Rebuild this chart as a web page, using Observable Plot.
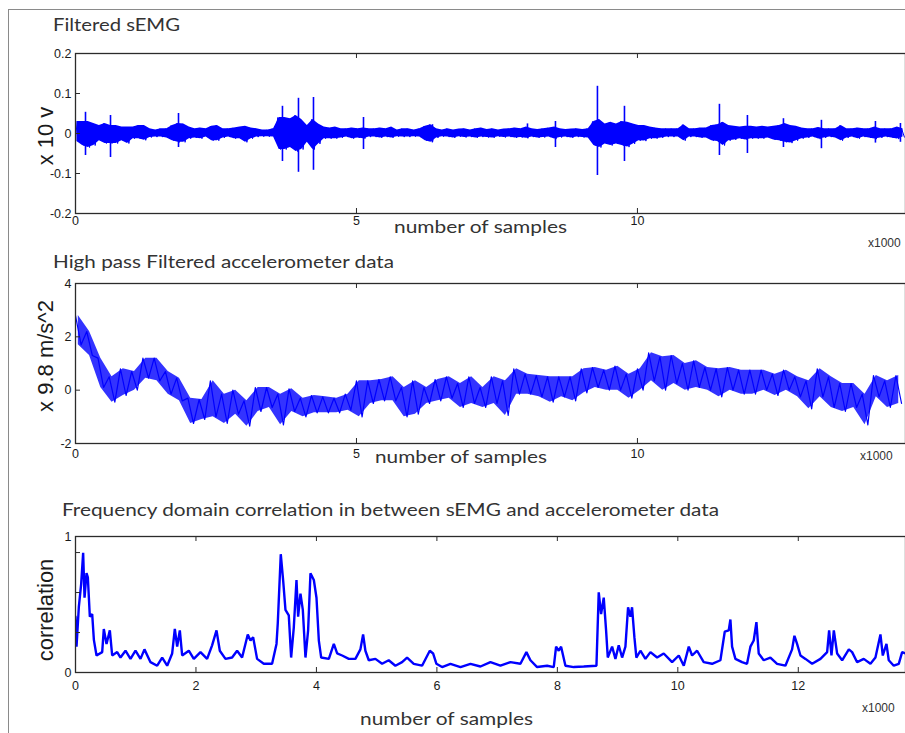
<!DOCTYPE html>
<html><head><meta charset="utf-8">
<script src="https://cdn.jsdelivr.net/npm/d3@7"></script>
<script src="https://cdn.jsdelivr.net/npm/@observablehq/plot@0.6"></script>
<style>
body{margin:0;background:#fff;}
#fig{position:relative;width:905px;height:733px;overflow:hidden;background:#fff;}
#frame{position:absolute;left:8px;top:9px;width:1000px;height:800px;border-left:1.5px solid #8a8a8a;border-top:1.5px solid #8a8a8a;}
.panel{position:absolute;left:0;}
#ann{position:absolute;left:0;top:0;pointer-events:none;}
</style></head>
<body>
<div id="fig"><div id="frame"></div></div>
<script>
// ---------- Panel 1: Filtered sEMG (noise envelope per 100 samples + isolated spikes) ----------
const semgStep = 100;
const semgHi = [
 0.03,0.03,0.03,0.025,0.02,0.025,0.02,0.02,0.016,0.016,
 0.016,0.02,0.02,0.012,0.009,0.012,0.012,0.02,0.025,0.024,
 0.016,0.012,0.014,0.012,0.018,0.02,0.012,0.012,0.014,0.016,
 0.018,0.014,0.012,0.009,0.009,0.012,0.04,0.04,0.037,0.045,
 0.035,0.02,0.035,0.024,0.016,0.014,0.016,0.012,0.012,0.014,
 0.012,0.014,0.012,0.012,0.014,0.012,0.016,0.009,0.012,0.012,
 0.009,0.012,0.018,0.022,0.012,0.009,0.012,0.009,0.011,0.012,
 0.009,0.012,0.014,0.01,0.012,0.009,0.011,0.012,0.014,0.012,
 0.016,0.012,0.01,0.012,0.014,0.016,0.012,0.01,0.011,0.012,
 0.01,0.012,0.03,0.035,0.024,0.028,0.024,0.03,0.028,0.024,
 0.02,0.02,0.016,0.014,0.012,0.012,0.012,0.012,0.022,0.012,
 0.012,0.014,0.014,0.02,0.022,0.028,0.02,0.018,0.016,0.018,
 0.018,0.016,0.018,0.016,0.018,0.02,0.025,0.02,0.018,0.014,
 0.012,0.012,0.015,0.012,0.012,0.012,0.02,0.012,0.012,0.014,
 0.012,0.012,0.016,0.012,0.012,0.012,0.016,0.012];
const semgLo = [
 -0.02,-0.03,-0.035,-0.03,-0.018,-0.025,-0.025,-0.025,-0.018,-0.025,
 -0.013,-0.013,-0.017,-0.01,-0.009,-0.009,-0.011,-0.018,-0.022,-0.022,
 -0.013,-0.011,-0.013,-0.009,-0.018,-0.018,-0.011,-0.009,-0.013,-0.013,
 -0.022,-0.013,-0.009,-0.008,-0.008,-0.009,-0.04,-0.04,-0.035,-0.045,
 -0.04,-0.022,-0.04,-0.026,-0.013,-0.013,-0.013,-0.011,-0.009,-0.013,
 -0.011,-0.013,-0.009,-0.009,-0.011,-0.009,-0.011,-0.008,-0.009,-0.009,
 -0.008,-0.009,-0.018,-0.022,-0.011,-0.008,-0.009,-0.011,-0.008,-0.01,
 -0.009,-0.011,-0.009,-0.01,-0.011,-0.008,-0.01,-0.009,-0.011,-0.01,
 -0.012,-0.009,-0.011,-0.01,-0.009,-0.014,-0.01,-0.009,-0.011,-0.009,
 -0.01,-0.011,-0.03,-0.035,-0.026,-0.03,-0.026,-0.03,-0.034,-0.026,
 -0.018,-0.019,-0.013,-0.013,-0.011,-0.009,-0.009,-0.009,-0.018,-0.009,
 -0.009,-0.011,-0.011,-0.018,-0.02,-0.03,-0.018,-0.016,-0.013,-0.016,
 -0.013,-0.013,-0.013,-0.011,-0.016,-0.018,-0.022,-0.024,-0.018,-0.013,
 -0.011,-0.009,-0.014,-0.011,-0.009,-0.011,-0.018,-0.011,-0.009,-0.013,
 -0.009,-0.011,-0.014,-0.011,-0.009,-0.011,-0.014,-0.009];
const semgSpikeX  = [178, 623, 1833, 3683, 3968, 4235, 5125, 6352, 8043, 8541, 9288, 9769, 11459, 11957, 12598, 13274, 14235, 14680];
const semgSpikeHi = [0.053, 0.045, 0.05, 0.068, 0.088, 0.09, 0.04, 0.022, 0.024, 0.03, 0.118, 0.068, 0.073, 0.045, 0.037, 0.033, 0.03, 0.025];
const semgSpikeLo = [-0.055, -0.06, -0.035, -0.07, -0.097, -0.092, -0.04, -0.022, -0.012, -0.035, -0.105, -0.07, -0.055, -0.05, -0.035, -0.038, -0.024, -0.022];
const semgXTicks = [0, 5000, 10000];
const semgYTicks = [-0.2, -0.1, 0, 0.1, 0.2];

// ---------- Panel 2: accelerometer (envelope per 200 samples) ----------
const accStep = 200;
const accHi = [
 2.8,2.2,1.2,0.5,0.8,0.7,1.2,1.2,0.7,0.45,
 -0.3,-0.35,0.35,-0.15,0.0,-0.4,0.1,0.1,-0.15,0.05,
 -0.3,-0.2,-0.25,-0.3,-0.15,0.35,0.35,0.4,0.5,0.1,
 0.35,0.1,0.4,0.5,0.25,0.5,0.1,0.5,0.35,0.8,
 0.6,0.55,0.5,0.5,0.5,0.8,0.85,0.75,0.9,0.6,
 0.8,1.4,1.25,1.3,1.0,1.1,0.85,0.8,0.85,0.75,
 0.75,0.75,0.6,0.75,0.5,0.35,0.8,0.5,0.25,0.25,
 -0.15,0.55,0.35,0.55];
const accLo = [
 1.7,1.3,0.1,-0.45,-0.2,0.0,0.45,0.35,-0.15,-0.4,
 -1.25,-1.1,-1.0,-1.25,-0.9,-1.35,-0.8,-0.65,-1.3,-0.8,
 -1.0,-0.85,-0.85,-0.85,-0.75,-1.0,-0.5,-0.4,-0.4,-1.0,
 -0.9,-0.5,-0.4,-0.3,-0.65,-0.5,-0.65,-0.5,-0.95,-0.15,
 -0.15,-0.25,-0.45,-0.25,-0.4,-0.1,0.1,0.0,0.0,-0.3,
 0.0,0.35,0.0,0.25,0.0,0.1,0.0,-0.25,0.0,-0.15,
 -0.15,0.0,-0.2,0.0,-0.25,-0.7,-0.25,-0.65,-0.8,-0.65,
 -1.3,-0.25,-0.65,-0.5];
const accXTicks = [0, 5000, 10000];
const accYTicks = [-2, 0, 2, 4];

const corrX = [
 0,17,55,94,127,150,183,205,238,277,305,349,443,470,515,570,609,692,747,830,
 913,996,1079,1145,1245,1356,1439,1522,1605,1649,1688,1732,1771,1881,1964,2075,2185,2268,2341,2396,
 2490,2600,2683,2766,2860,2905,2949,3015,3126,3264,3337,3358,3408,3447,3486,3541,3580,3624,3669,3696,
 3735,3774,3818,3862,3901,3957,4001,4040,4079,4206,4289,4344,4427,4538,4647,4730,4775,4813,4869,4979,
 5090,5200,5311,5422,5505,5616,5754,5882,5937,5992,6086,6225,6391,6557,6723,6889,7055,7221,7387,7486,
 7553,7664,7830,7940,7979,8023,8062,8134,8272,8438,8649,8687,8726,8770,8809,8837,8909,8964,9019,9075,
 9130,9174,9213,9240,9279,9312,9379,9462,9545,9656,9766,9905,10016,10099,10182,10237,10320,10430,10569,10707,
 10779,10845,10873,10901,10956,11066,11149,11205,11260,11305,11343,11426,11537,11648,11786,11897,11936,11980,12036,12119,
 12230,12368,12479,12512,12551,12590,12645,12728,12839,12894,12977,13087,13198,13281,13364,13403,13464,13502,13585,13668,
 13724,13779];
const corrY = [
 0.41,0.19,0.48,0.65,0.88,0.55,0.73,0.70,0.41,0.43,0.24,0.125,0.15,0.32,0.21,0.31,0.125,0.15,0.11,0.16,
 0.1,0.16,0.1,0.17,0.076,0.05,0.11,0.05,0.14,0.32,0.19,0.31,0.125,0.16,0.1,0.15,0.1,0.2,0.31,0.16,
 0.1,0.11,0.16,0.11,0.28,0.235,0.26,0.1,0.064,0.064,0.21,0.36,0.87,0.68,0.46,0.42,0.11,0.33,0.68,0.41,
 0.58,0.46,0.11,0.31,0.73,0.68,0.55,0.235,0.11,0.1,0.21,0.14,0.125,0.1,0.1,0.17,0.28,0.16,0.09,0.1,
 0.064,0.09,0.05,0.076,0.11,0.064,0.05,0.16,0.14,0.064,0.04,0.064,0.04,0.064,0.044,0.076,0.05,0.076,0.064,0.15,
 0.09,0.04,0.05,0.04,0.19,0.16,0.19,0.05,0.04,0.044,0.05,0.59,0.43,0.55,0.31,0.11,0.19,0.1,0.2,0.11,
 0.19,0.48,0.41,0.48,0.26,0.11,0.16,0.1,0.15,0.11,0.14,0.076,0.125,0.05,0.19,0.125,0.16,0.076,0.064,0.09,
 0.3,0.31,0.39,0.19,0.1,0.076,0.064,0.19,0.235,0.37,0.14,0.09,0.11,0.064,0.05,0.17,0.27,0.21,0.125,0.1,
 0.064,0.1,0.15,0.31,0.125,0.31,0.14,0.09,0.17,0.15,0.076,0.1,0.064,0.11,0.28,0.125,0.21,0.09,0.05,0.064,
 0.15,0.14];
const corrXTicks = [0, 2000, 4000, 6000, 8000, 10000, 12000];
const corrYTicks = [0, 0.294, 0.588, 0.882, 1];
const corrYLabels = {0: "0", 1: "1"};

// ---------- text ----------
const titles = ["Filtered sEMG", "High pass Filtered accelerometer data",
  "Frequency domain correlation in between sEMG and accelerometer data"];
const yLabels = ["x 10 v", "x 9.8 m/s^2", "correlation"];
const xLabel = "number of samples";
const xMult = "x1000";

function zigzag(hi, lo, step) {
  const pts = [];
  hi.forEach((h, i) => { pts.push({x: i * step, y: h}); pts.push({x: i * step + step / 2, y: lo[i]}); });
  return pts;
}
function band(hi, lo, step) {
  return hi.map((h, i) => ({x: i * step + step / 4, hi: h, lo: lo[i]}));
}

const BLUE = "#0000ff";
const AX = "#2b2b2b";
const tickFont = {fontFamily: "'Liberation Sans', Arial, sans-serif", fontSize: "12.5px", color: "#1a1a1a", background: "transparent", overflow: "visible"};

function panel({data, xDomain, yDomain, xTicks, yTicks, yFmt, plotH, top, xPad}) {
  const innerW = 905 - 75;
  const p = Plot.plot({
    width: 905, height: 13 + plotH + 37,
    marginLeft: 75, marginRight: 0, marginTop: 13, marginBottom: 37,
    style: tickFont,
    x: {domain: xDomain}, y: {domain: yDomain},
    marks: [
      ...data,
      Plot.tickX(xTicks, {x: d => d, stroke: AX, insetTop: plotH - 5}),
      Plot.tickX(xTicks, {x: d => d, stroke: AX, insetBottom: plotH - 5}),
      Plot.tickY(yTicks, {y: d => d, stroke: AX, insetRight: innerW - 5}),
      Plot.frame({stroke: AX, strokeWidth: 1.3}),
      Plot.axisX({anchor: "bottom", ticks: xTicks, tickSize: 0, tickPadding: xPad, label: null, tickFormat: d => String(d / 1000)}),
      Plot.axisY({anchor: "left", ticks: yTicks, tickSize: 0, tickPadding: 4, tickFormat: yFmt, label: null})
    ]
  });
  p.classList.add("panel");
  p.style.top = top + "px";
  document.getElementById("fig").appendChild(p);
}

const spikeData = semgSpikeX.map((x, i) => ({x, hi: semgSpikeHi[i], lo: semgSpikeLo[i]}));
panel({
  data: [
    Plot.areaY(band(semgHi, semgLo, semgStep), {x: "x", y1: "lo", y2: "hi", fill: BLUE, clip: true}),
    Plot.line(zigzag(semgHi, semgLo, semgStep), {x: "x", y: "y", stroke: BLUE, strokeWidth: 1, clip: true}),
    Plot.ruleX(spikeData, {x: "x", y1: "lo", y2: "hi", stroke: BLUE, strokeWidth: 1.6})
  ],
  xDomain: [0, 14770], yDomain: [-0.2, 0.2],
  xTicks: semgXTicks, yTicks: semgYTicks, yFmt: d => String(d), plotH: 160, top: 40, xPad: 3});
panel({
  data: [
    Plot.areaY(band(accHi, accLo, accStep), {x: "x", y1: "lo", y2: "hi", fill: BLUE, fillOpacity: 0.8, clip: true}),
    Plot.line(zigzag(accHi, accLo, accStep), {x: "x", y: "y", stroke: BLUE, strokeWidth: 1.2, clip: true})
  ],
  xDomain: [0, 14770], yDomain: [-2, 4],
  xTicks: accXTicks, yTicks: accYTicks, yFmt: d => String(d), plotH: 160, top: 270, xPad: 6});
panel({
  data: [
    Plot.line(corrX.map((x, i) => ({x, y: corrY[i]})), {x: "x", y: "y", stroke: BLUE, strokeWidth: 2.4, strokeLinejoin: "miter", clip: true})
  ],
  xDomain: [0, 13780], yDomain: [0, 1],
  xTicks: corrXTicks, yTicks: corrYTicks, yFmt: d => corrYLabels[d] || "", plotH: 136, top: 523, xPad: 9});

// annotation layer (titles, axis labels)
const NS = "http://www.w3.org/2000/svg";
const ann = document.createElementNS(NS, "svg");
ann.setAttribute("id", "ann"); ann.setAttribute("width", 905); ann.setAttribute("height", 733);
function txt(s, x, y, font, size, fill, {rot, anchor, len} = {}) {
  const t = document.createElementNS(NS, "text");
  t.textContent = s;
  t.setAttribute("x", x); t.setAttribute("y", y);
  t.setAttribute("font-family", font); t.setAttribute("font-size", size);
  t.setAttribute("fill", fill);
  if (anchor) t.setAttribute("text-anchor", anchor);
  if (len) { t.setAttribute("textLength", len); t.setAttribute("lengthAdjust", "spacingAndGlyphs"); }
  if (rot) t.setAttribute("transform", `rotate(${rot} ${x} ${y})`);
  ann.appendChild(t);
}
const HUM = "Lato, 'Open Sans', sans-serif";
const ARI = "'Liberation Sans', Arial, sans-serif";
txt(titles[0], 53, 31, HUM, 18, "#333", {len: 127});
txt(titles[1], 53, 268, HUM, 18, "#333", {len: 341});
txt(titles[2], 62, 516, HUM, 18, "#333", {len: 657});
txt(yLabels[0], 53, 136, ARI, 22, "#1a1a1a", {rot: -90, anchor: "middle"});
txt(yLabels[1], 53, 356, ARI, 22, "#1a1a1a", {rot: -90, anchor: "middle"});
txt(yLabels[2], 53, 610, ARI, 22, "#1a1a1a", {rot: -90, anchor: "middle"});
txt(xLabel, 394, 233, HUM, 18, "#333", {len: 173});
txt(xLabel, 375, 463, HUM, 18, "#333", {len: 172});
txt(xLabel, 360, 725, HUM, 18, "#333", {len: 173});
txt(xMult, 868, 247, ARI, 12, "#333");
txt(xMult, 860, 460, ARI, 12, "#333");
txt(xMult, 862, 712, ARI, 12, "#333");
document.getElementById("fig").appendChild(ann);
</script>
</body></html>
